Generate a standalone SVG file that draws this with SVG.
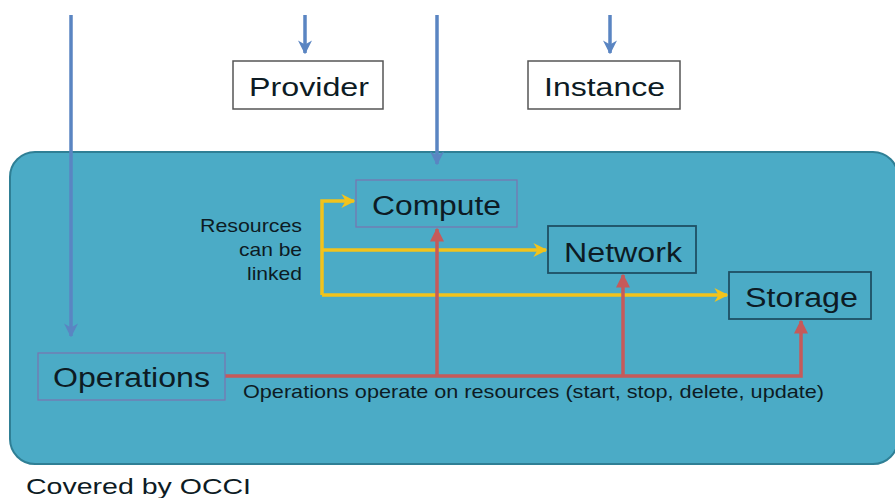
<svg xmlns="http://www.w3.org/2000/svg" width="895" height="498" viewBox="0 0 895 498">
<defs>
<marker id="ab" viewBox="0 0 10 10" refX="9" refY="5" markerWidth="4" markerHeight="4" orient="auto" markerUnits="strokeWidth"><path d="M0,0 L10,5 L0,10 L3,5 z" fill="#5a85c2"/></marker>
<marker id="ay" viewBox="0 0 10 10" refX="9" refY="5" markerWidth="4" markerHeight="4" orient="auto" markerUnits="strokeWidth"><path d="M0,0 L10,5 L0,10 L3,5 z" fill="#f2c31b"/></marker>
<marker id="ar" viewBox="0 0 10 10" refX="9" refY="5" markerWidth="4" markerHeight="4" orient="auto" markerUnits="strokeWidth"><path d="M0,0 L10,5 L0,10 z" fill="#c65a5a"/></marker>
<style>
text{font-family:"Liberation Sans",Arial,sans-serif;fill:#0d1b24}
.blue{stroke:#5a85c2;stroke-width:3.5;fill:none}
.yel{stroke:#f2c31b;stroke-width:3.5;fill:none}
.red{stroke:#c65a5a;stroke-width:3.5;fill:none}
.wbox{fill:#fff;stroke:#555;stroke-width:1.5}
.dbox{fill:none;stroke:#1e4f63;stroke-width:1.8}
.pbox{fill:none;stroke:#7a73b0;stroke-width:1.2}
</style>
</defs>
<rect id="container" x="10" y="152" width="888" height="312" rx="25" fill="#4babc6" stroke="#2f7f95" stroke-width="2"/>
<g id="connectors">
<line class="blue" x1="71" y1="15" x2="71" y2="336" marker-end="url(#ab)"/>
<line class="blue" x1="305" y1="15" x2="305" y2="53" marker-end="url(#ab)"/>
<line class="blue" x1="610" y1="15" x2="610" y2="53" marker-end="url(#ab)"/>
<line class="blue" x1="437" y1="15" x2="437" y2="164" marker-end="url(#ab)"/>
<polyline class="yel" points="322,295 322,201 354,201" marker-end="url(#ay)"/>
<line class="yel" x1="322" y1="250" x2="546" y2="250" marker-end="url(#ay)"/>
<line class="yel" x1="322" y1="295" x2="727" y2="295" marker-end="url(#ay)"/>
<polyline class="red" points="225,376 801,376 801,321" marker-end="url(#ar)"/>
<line class="red" x1="437" y1="376" x2="437" y2="229" marker-end="url(#ar)"/>
<line class="red" x1="623" y1="376" x2="623" y2="275" marker-end="url(#ar)"/>
</g>
<g id="provider"><rect class="wbox" x="233" y="61" width="150" height="48"/><text x="249" y="96" font-size="26.5" textLength="120" lengthAdjust="spacingAndGlyphs">Provider</text></g>
<g id="instance"><rect class="wbox" x="528" y="61" width="152" height="48"/><text x="544" y="96" font-size="26.5" textLength="121" lengthAdjust="spacingAndGlyphs">Instance</text></g>
<g id="compute"><rect class="pbox" x="356" y="180" width="161" height="47"/><text x="372" y="215" font-size="27" textLength="129" lengthAdjust="spacingAndGlyphs">Compute</text></g>
<g id="network"><rect class="dbox" x="548" y="226" width="148" height="47"/><text x="564" y="262" font-size="27" textLength="118" lengthAdjust="spacingAndGlyphs">Network</text></g>
<g id="storage"><rect class="dbox" x="729" y="272" width="142" height="47"/><text x="745" y="307" font-size="27" textLength="113" lengthAdjust="spacingAndGlyphs">Storage</text></g>
<g id="operations"><rect class="pbox" x="38" y="353" width="187" height="47"/><text x="53" y="387" font-size="27" textLength="157" lengthAdjust="spacingAndGlyphs">Operations</text></g>
<g id="labels">
<text x="200" y="232" font-size="18.5" textLength="102" lengthAdjust="spacingAndGlyphs">Resources</text>
<text x="239" y="256" font-size="18.5" textLength="63" lengthAdjust="spacingAndGlyphs">can be</text>
<text x="247" y="280" font-size="18.5" textLength="55" lengthAdjust="spacingAndGlyphs">linked</text>
<text x="243" y="398" font-size="18.5" textLength="581" lengthAdjust="spacingAndGlyphs">Operations operate on resources (start, stop, delete, update)</text>
<text x="26" y="494" font-size="22" textLength="225" lengthAdjust="spacingAndGlyphs">Covered by OCCI</text>
</g>
</svg>
